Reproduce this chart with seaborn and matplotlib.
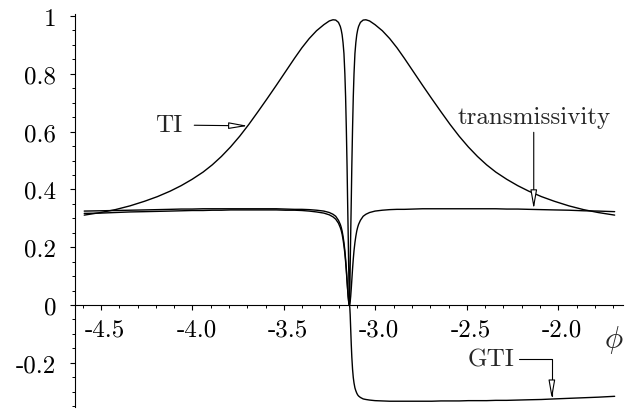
import matplotlib
matplotlib.use("Agg")
import matplotlib.pyplot as plt
import seaborn as sns
import pandas as pd
from matplotlib.patches import ArrowStyle
from matplotlib.transforms import ScaledTranslation

# phase angle samples (dense around the resonance at -pi)
phi = [-4.5916, -4.5016, -4.4216, -4.3416, -4.2616, -4.1916, -4.1216, -4.0616,
       -4.0016, -3.9416, -3.8916, -3.8416, -3.7916, -3.7416, -3.6916, -3.6416,
       -3.5916, -3.5416, -3.4916, -3.4416, -3.4016, -3.3616, -3.3216, -3.2816,
       -3.2516, -3.2316, -3.2166, -3.2016, -3.1916, -3.1866, -3.1816, -3.1766,
       -3.1716, -3.1666, -3.1626, -3.1586, -3.1546, -3.1516, -3.1486, -3.1456,
       -3.1436, -3.1416,
       -3.1396, -3.1376, -3.1346, -3.1316, -3.1286, -3.1246, -3.1206, -3.1166,
       -3.1116, -3.1066, -3.1016, -3.0966, -3.0916, -3.0816, -3.0666, -3.0516,
       -3.0316, -3.0016, -2.9616, -2.9216, -2.8816, -2.8416, -2.7916, -2.7416,
       -2.6916, -2.6416, -2.5916, -2.5416, -2.4916, -2.4416, -2.3916, -2.3416,
       -2.2816, -2.2216, -2.1616, -2.0916, -2.0216, -1.9416, -1.8616, -1.7816,
       -1.6916]

ti = [0.311, 0.320, 0.330, 0.343, 0.359, 0.375, 0.394, 0.413,
      0.435, 0.460, 0.485, 0.514, 0.547, 0.584, 0.625, 0.669,
      0.714, 0.760, 0.807, 0.854, 0.890, 0.922, 0.949, 0.970,
      0.983, 0.987, 0.986, 0.978, 0.964, 0.952, 0.935, 0.908,
      0.870, 0.800, 0.720, 0.610, 0.480, 0.360, 0.250, 0.130,
      0.040, 0.0,
      0.040, 0.130, 0.250, 0.360, 0.480, 0.610, 0.720, 0.800,
      0.870, 0.908, 0.935, 0.952, 0.964, 0.978, 0.986, 0.987,
      0.983, 0.970, 0.949, 0.922, 0.890, 0.854, 0.807, 0.760,
      0.714, 0.669, 0.625, 0.584, 0.547, 0.514, 0.485, 0.460,
      0.435, 0.413, 0.394, 0.375, 0.359, 0.343, 0.330, 0.320,
      0.311]

transmissivity = [0.325, 0.326, 0.327, 0.328, 0.329, 0.330, 0.331, 0.332,
                  0.332, 0.333, 0.333, 0.333, 0.333, 0.333, 0.333, 0.333,
                  0.333, 0.333, 0.332, 0.331, 0.331, 0.330, 0.328, 0.325,
                  0.320, 0.314, 0.307, 0.293, 0.279, 0.269, 0.256, 0.238,
                  0.216, 0.188, 0.159, 0.125, 0.086, 0.057, 0.031, 0.011,
                  0.003, 0.0,
                  0.003, 0.011, 0.031, 0.057, 0.086, 0.125, 0.159, 0.188,
                  0.216, 0.238, 0.256, 0.269, 0.279, 0.293, 0.307, 0.314,
                  0.320, 0.325, 0.328, 0.330, 0.331, 0.331, 0.332, 0.333,
                  0.333, 0.333, 0.333, 0.333, 0.333, 0.333, 0.333, 0.333,
                  0.332, 0.332, 0.331, 0.330, 0.329, 0.328, 0.326, 0.325,
                  0.323]

gti = [0.317, 0.318, 0.320, 0.322, 0.323, 0.324, 0.325, 0.326,
       0.327, 0.327, 0.328, 0.328, 0.329, 0.329, 0.329, 0.329,
       0.329, 0.329, 0.328, 0.328, 0.327, 0.325, 0.322, 0.318,
       0.312, 0.305, 0.297, 0.283, 0.268, 0.258, 0.245, 0.227,
       0.205, 0.178, 0.150, 0.118, 0.081, 0.054, 0.029, 0.010,
       0.003, 0.0,
       -0.009, -0.033, -0.085, -0.137, -0.180, -0.222, -0.251, -0.270,
       -0.287, -0.297, -0.305, -0.311, -0.315, -0.320, -0.325, -0.327,
       -0.329, -0.331, -0.332, -0.333, -0.333, -0.333, -0.333, -0.333,
       -0.333, -0.332, -0.332, -0.332, -0.331, -0.331, -0.331, -0.330,
       -0.330, -0.329, -0.328, -0.327, -0.325, -0.323, -0.321, -0.319,
       -0.316]

x_ticks = [-4.5, -4.0, -3.5, -3.0, -2.5, -2.0]
x_tick_labels = ["-4.5", "-4.0", "-3.5", "-3.0", "-2.5", "-2.0"]
y_ticks = [-0.2, 0.0, 0.2, 0.4, 0.6, 0.8, 1.0]
y_tick_labels = ["-0.2", "0", "0.2", "0.4", "0.6", "0.8", "1"]

sns.set_theme(style="white")
plt.rcParams["font.family"] = ["cmr10", "DejaVu Serif"]
plt.rcParams["mathtext.fontset"] = "cm"
plt.rcParams["axes.unicode_minus"] = False

df = pd.DataFrame({
    "phi": phi * 3,
    "value": ti + transmissivity + gti,
    "curve": ["TI"] * len(phi) + ["transmissivity"] * len(phi) + ["GTI"] * len(phi),
})

fig = plt.figure(figsize=(6.29, 4.10), dpi=100)
ax = fig.add_axes([75 / 629, 2 / 410, 548 / 629, 393 / 410])

sns.lineplot(data=df, x="phi", y="value", hue="curve",
             palette={"TI": "black", "transmissivity": "black", "GTI": "black"},
             linewidth=1.0, legend=False, ax=ax, estimator=None, sort=False)

ax.set_xlim(-4.642, -1.646)
ax.set_ylim(-0.353, 1.007)
ax.set_xlabel("")
ax.set_ylabel("")

for side in ("top", "right"):
    ax.spines[side].set_visible(False)
ax.spines["bottom"].set_position(("data", 0))
for side in ("left", "bottom"):
    ax.spines[side].set_color("black")
    ax.spines[side].set_linewidth(0.8)

ax.set_xticks(x_ticks)
ax.set_xticklabels(x_tick_labels)
ax.set_xticks([v / 10 for v in range(-46, -16)], minor=True)
ax.set_yticks(y_ticks)
ax.set_yticklabels(y_tick_labels)
ax.set_yticks([v / 20 for v in range(-7, 21)], minor=True)

ax.tick_params(axis="both", which="major", direction="out", length=3.5,
               width=0.8, color="black", labelsize=18, labelcolor="black")
ax.tick_params(axis="both", which="minor", direction="out", length=2,
               width=0.7, color="black")
ax.tick_params(axis="x", which="major", pad=6)
ax.tick_params(axis="y", which="major", pad=10)
ax.tick_params(which="both", bottom=True, left=True)

# centre the digits under each tick, letting the leading sign hang left
shift = ScaledTranslation(4 / 100, 0, fig.dpi_scale_trans)
for lab in ax.get_xticklabels():
    lab.set_transform(lab.get_transform() + shift)

ax.text(-1.697, -0.118, r"$\phi$", fontsize=22, ha="center", va="center")

head = ArrowStyle("-|>", head_length=1.15, head_width=0.2)
arrow_kw = dict(arrowstyle=head, mutation_scale=10, color="#333333",
                lw=0.8, fc="white", ec="black", shrinkB=0)

ax.annotate("TI", xy=(-3.697, 0.62), xytext=(-4.128, 0.623),
            fontsize=18, ha="center", va="center",
            arrowprops=dict(arrow_kw, shrinkA=6))

ax.annotate("transmissivity", xy=(-2.134, 0.332), xytext=(-2.134, 0.652),
            fontsize=18, ha="center", va="center",
            arrowprops=dict(arrow_kw, shrinkA=1))

ax.annotate("GTI", xy=(-2.035, -0.326), xytext=(-2.369, -0.187),
            fontsize=18, ha="center", va="center",
            arrowprops=dict(arrow_kw, shrinkA=1,
                            connectionstyle="angle,angleA=0,angleB=90,rad=0"))

fig.savefig("out.png", dpi=100)
